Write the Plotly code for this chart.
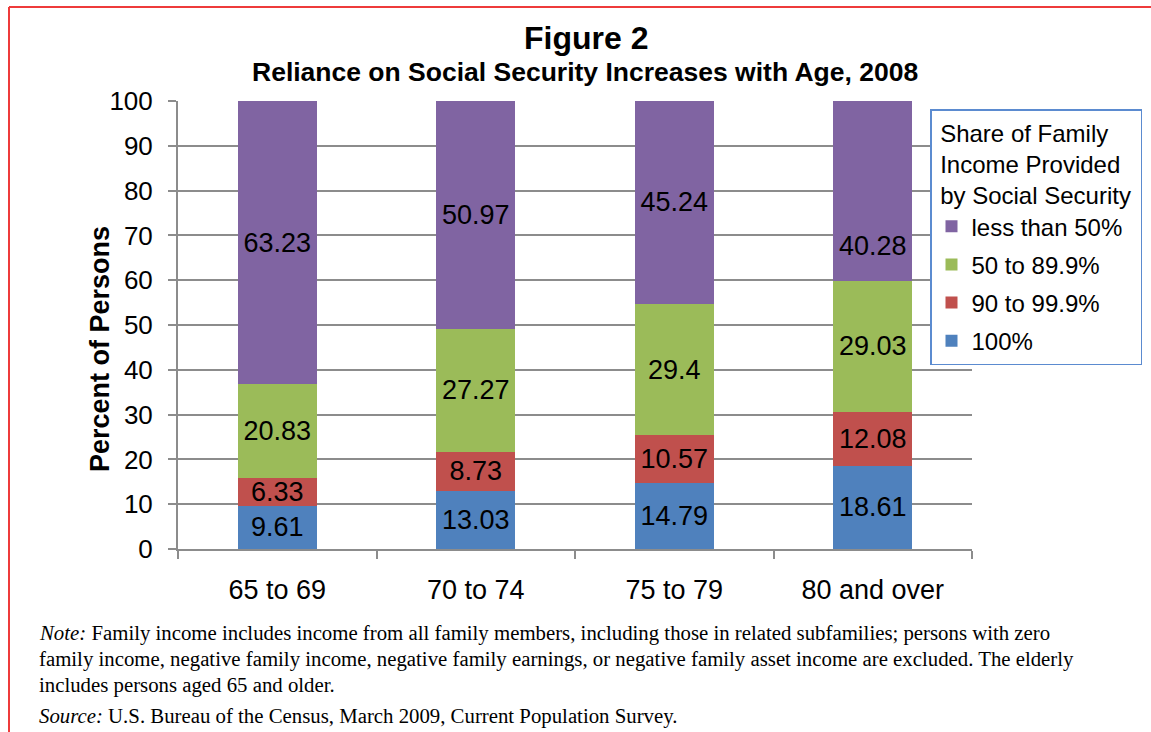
import plotly.graph_objects as go

# Age groups and share of family income provided by Social Security (percent of persons)
age_groups = ["65 to 69", "70 to 74", "75 to 79", "80 and over"]
share_100 = [9.61, 13.03, 14.79, 18.61]
share_90_99 = [6.33, 8.73, 10.57, 12.08]
share_50_89 = [20.83, 27.27, 29.4, 29.03]
share_lt50 = [63.23, 50.97, 45.24, 40.28]

# (name, values, colour, legend rank) stacked from the bottom up
series = [
    ("100%", share_100, "#4F81BD", 4),
    ("90 to 99.9%", share_90_99, "#C0504D", 3),
    ("50 to 89.9%", share_50_89, "#9BBB59", 2),
    ("less than 50%", share_lt50, "#8064A2", 1),
]

y_ticks = list(range(0, 101, 10))

SANS = "Liberation Sans, Arial, sans-serif"
SERIF = "Liberation Serif, Times New Roman, serif"
GRID = "#8C8C8C"
NB = "\u00a0"

W, H = 1151, 732
L, R, T, B = 178, 972, 101, 549  # plot area in pixels


def px(x):
    return (x - L) / (R - L)


def py(y):
    return (B - y) / (B - T)


fig = go.Figure()
for name, vals, color, rank in series:
    texts = [f"{v:g}" for v in vals]
    if name == "less than 50%":
        texts[-1] = ""  # drawn below as an annotation, nudged clear of the legend
    fig.add_trace(go.Bar(
        x=age_groups, y=vals, name=name,
        marker=dict(color=color, line=dict(width=0)),
        text=texts, textposition="inside", insidetextanchor="middle",
        textangle=0, textfont=dict(family=SANS, size=27, color="black"),
        legendgroup=name, legendrank=rank, width=0.4,
    ))

# label for the top segment of the last bar, placed lower inside the segment
base_last = share_100[-1] + share_90_99[-1] + share_50_89[-1]
fig.add_annotation(
    x=age_groups[-1], y=base_last + share_lt50[-1] / 2, xref="x", yref="y",
    text=f"{share_lt50[-1]:g}", showarrow=False, yshift=-55,
    font=dict(family=SANS, size=27, color="black"),
)

annotations = [
    dict(text="<b>Figure 2</b>", x=px(586), y=py(38), size=32),
    dict(text="<b>Reliance on Social Security Increases with Age, 2008</b>", x=px(585), y=py(72), size=26.5),
]
for a in annotations:
    fig.add_annotation(x=a["x"], y=a["y"], xref="paper", yref="paper", text=a["text"],
                       showarrow=False, xanchor="center", yanchor="middle",
                       font=dict(family=SANS, size=a["size"], color="black"))

fig.add_annotation(x=px(100), y=py(349), xref="paper", yref="paper",
                   text="<b>Percent of Persons</b>", textangle=-90, showarrow=False,
                   xanchor="center", yanchor="middle",
                   font=dict(family=SANS, size=27, color="black"))

notes = [
    ("<i>Note:</i> Family income includes income from all family members, including those in related subfamilies; persons with zero", 633),
    ("family income, negative family income, negative family earnings, or negative family asset income are excluded. The elderly", 659),
    ("includes persons aged 65 and older.", 685),
    ("<i>Source:</i> U.S. Bureau of the Census, March 2009, Current Population Survey.", 716),
]
for text, yy in notes:
    fig.add_annotation(x=px(37), y=py(yy), xref="paper", yref="paper", text=text,
                       showarrow=False, xanchor="left", yanchor="middle", align="left",
                       font=dict(family=SERIF, size=20.8, color="black"))

# page frame (top and left edges)
fig.add_shape(type="line", xref="paper", yref="paper", x0=px(9), y0=py(7), x1=px(1160), y1=py(7),
              line=dict(color="#EE3B3B", width=2))
fig.add_shape(type="line", xref="paper", yref="paper", x0=px(9), y0=py(7), x1=px(9), y1=py(740),
              line=dict(color="#EE3B3B", width=2))

legend_title_lines = ["Share of Family", "Income Provided", "by Social Security"]
legend_title = "<br>".join(NB + line for line in legend_title_lines) + NB

fig.update_layout(
    width=W, height=H,
    margin=dict(l=L, r=W - R, t=T, b=H - B, autoexpand=False),
    barmode="stack", bargap=0.6,
    plot_bgcolor="white", paper_bgcolor="white",
    uniformtext=dict(minsize=27, mode="show"),
    showlegend=True,
    legend=dict(
        x=px(930), y=py(109), xanchor="left", yanchor="top",
        bgcolor="white", bordercolor="#5B8BD0", borderwidth=1.5,
        traceorder="grouped", tracegroupgap=4, itemwidth=30,
        font=dict(family=SANS, size=24, color="black"),
        title=dict(text=legend_title, side="top",
                   font=dict(family=SANS, size=24, color="black")),
    ),
    xaxis=dict(
        type="category", showline=True, linecolor=GRID, linewidth=2,
        ticks="outside", tickson="boundaries", ticklen=8, tickcolor=GRID, tickwidth=2,
        showgrid=False, ticklabelstandoff=16,
        tickfont=dict(family=SANS, size=27, color="black"),
    ),
    yaxis=dict(
        range=[0, 100], tickvals=y_ticks, showline=True, linecolor=GRID, linewidth=2,
        ticks="outside", ticklen=8, tickcolor=GRID, tickwidth=2,
        showgrid=True, gridcolor=GRID, gridwidth=2, zeroline=False,
        ticklabelstandoff=10,
        tickfont=dict(family=SANS, size=26, color="black"),
    ),
)

fig.write_html("out.html")
